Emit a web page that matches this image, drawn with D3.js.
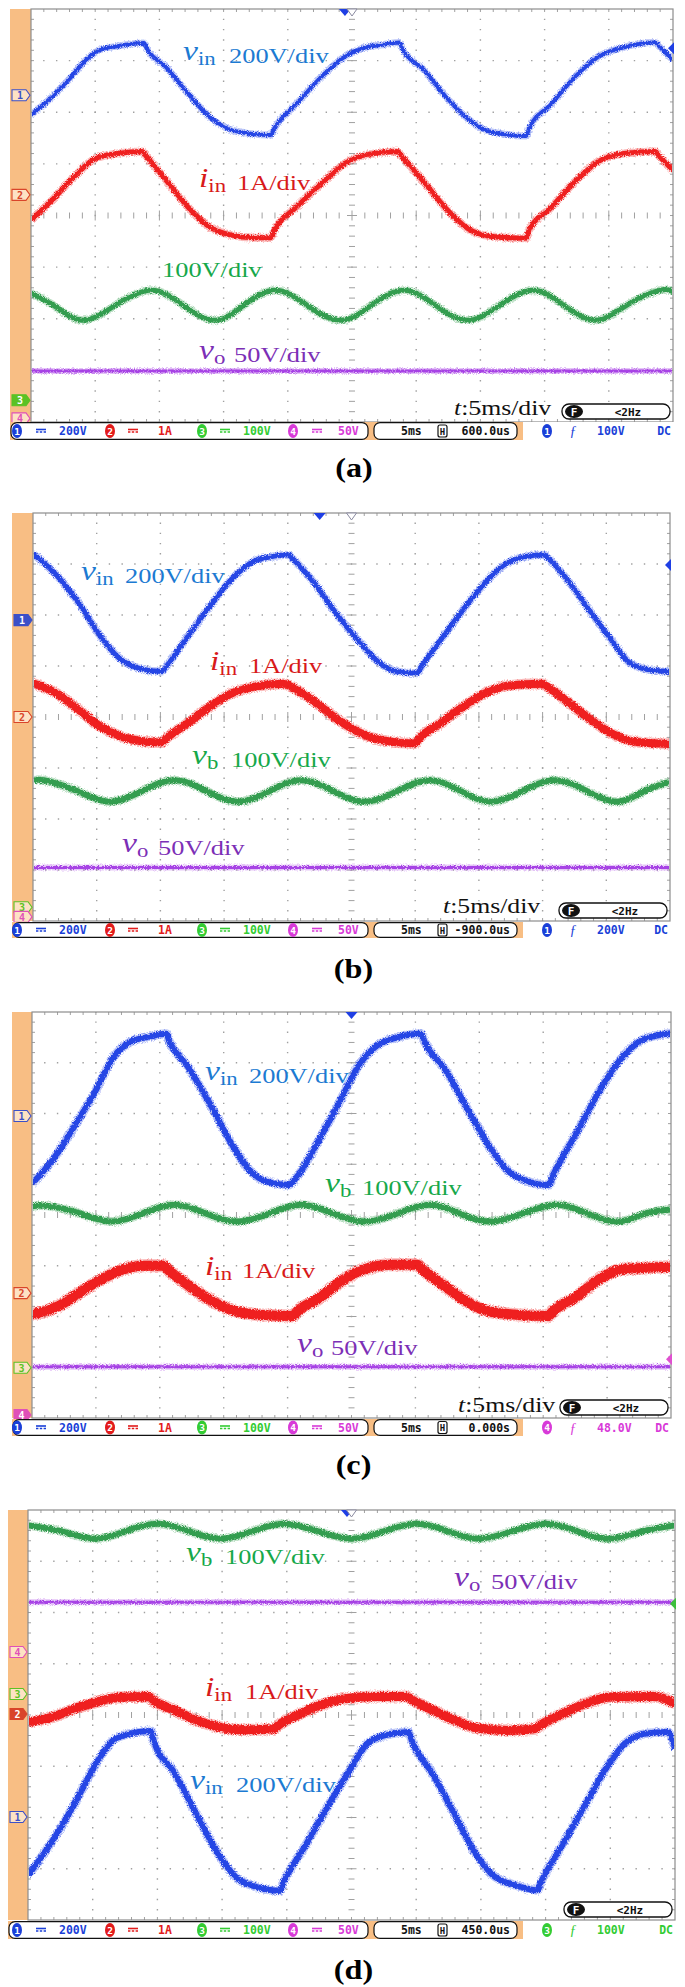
<!DOCTYPE html>
<html><head><meta charset="utf-8">
<script src="https://cdn.jsdelivr.net/npm/d3@7/dist/d3.min.js"></script>
<style>body{margin:0;background:#fff}svg{display:block}</style>
</head><body>
<svg id="c" width="685" height="1987"></svg>
<script>
// ---------------- data (divisions: x 0..10, value -4..4, positive up) ----------------
const aVin = [[0,1.95],[0.33,2.30],[0.61,2.66],[0.88,3.04],[1.08,3.21],[1.35,3.28],[1.76,3.34],[1.80,3.24],[2.10,2.88],[2.44,2.37],[2.78,1.91],[3.05,1.69],[3.39,1.59],[3.73,1.56],[3.79,1.69],[4.14,2.17],[4.55,2.72],[4.89,3.08],[5.16,3.24],[5.44,3.30],[5.74,3.35],[5.78,3.24],[6.12,2.82],[6.46,2.30],[6.80,1.88],[7.07,1.66],[7.41,1.57],[7.71,1.54],[7.76,1.69],[8.09,2.14],[8.50,2.72],[8.84,3.08],[9.18,3.24],[9.72,3.35],[9.79,3.27],[10,3.01]];
const aIin = [[0,-0.09],[0.33,0.30],[0.67,0.75],[1.01,1.11],[1.35,1.20],[1.73,1.24],[1.80,1.14],[2.10,0.69],[2.44,0.17],[2.78,-0.22],[3.12,-0.38],[3.46,-0.43],[3.73,-0.43],[3.79,-0.28],[4.14,0.17],[4.55,0.65],[4.89,1.01],[5.23,1.18],[5.71,1.24],[5.78,1.14],[6.12,0.65],[6.46,0.14],[6.80,-0.25],[7.14,-0.40],[7.71,-0.44],[7.76,-0.28],[8.09,0.14],[8.50,0.69],[8.84,1.05],[9.24,1.20],[9.72,1.24],[9.79,1.14],[10,0.88]];
const aVb = [[0,-1.50],[0.40,-1.78],[0.81,-2.03],[1.30,-1.75],[1.86,-1.45],[2.35,-1.72],[2.85,-2.03],[3.30,-1.75],[3.80,-1.45],[4.30,-1.74],[4.82,-2.03],[5.30,-1.74],[5.81,-1.45],[6.30,-1.74],[6.80,-2.03],[7.30,-1.74],[7.82,-1.45],[8.30,-1.74],[8.80,-2.03],[9.30,-1.72],[9.79,-1.45],[10,-1.48]];
const aVo = [[0,-3.01],[10,-3.01]];

const bVin = [[0,3.20],[0.37,2.78],[0.72,2.23],[1.06,1.58],[1.33,1.18],[1.68,0.95],[2.02,0.89],[2.09,0.99],[2.43,1.58],[2.77,2.16],[3.11,2.69],[3.46,3.05],[3.73,3.14],[4.01,3.18],[4.07,3.11],[4.42,2.62],[4.76,2.03],[5.10,1.51],[5.45,1.05],[5.72,0.89],[6.03,0.86],[6.10,0.99],[6.40,1.51],[6.75,2.10],[7.09,2.62],[7.43,3.01],[7.71,3.14],[8.02,3.18],[8.09,3.11],[8.39,2.69],[8.73,2.10],[9.08,1.51],[9.35,1.08],[9.69,0.92],[10,0.89]];
const bIin = [[0,0.66],[0.37,0.46],[0.72,0.14],[1.06,-0.19],[1.40,-0.39],[1.74,-0.48],[2.02,-0.50],[2.09,-0.42],[2.43,-0.12],[2.77,0.20],[3.11,0.46],[3.46,0.59],[3.94,0.65],[4.07,0.58],[4.42,0.30],[4.76,-0.03],[5.10,-0.29],[5.45,-0.45],[5.99,-0.52],[6.06,-0.42],[6.40,-0.12],[6.75,0.20],[7.09,0.46],[7.43,0.61],[7.98,0.65],[8.09,0.58],[8.39,0.30],[8.73,-0.03],[9.08,-0.32],[9.42,-0.48],[10,-0.53]];
const bVb = [[0,-1.27],[0.17,-1.24],[0.69,-1.45],[1.20,-1.66],[1.71,-1.45],[2.22,-1.24],[2.72,-1.45],[3.22,-1.66],[3.72,-1.45],[4.21,-1.24],[4.71,-1.45],[5.21,-1.66],[5.72,-1.45],[6.23,-1.24],[6.71,-1.45],[7.19,-1.66],[7.69,-1.45],[8.19,-1.24],[8.69,-1.45],[9.18,-1.66],[9.60,-1.45],[10,-1.27]];
const bVo = [[0,-2.95],[10,-2.95]];

const cVin = [[0,0.62],[0.32,1.08],[0.66,1.74],[1.00,2.46],[1.28,3.12],[1.55,3.42],[1.82,3.51],[2.10,3.57],[2.15,3.42],[2.44,2.92],[2.78,2.20],[3.12,1.41],[3.40,0.89],[3.67,0.66],[4.01,0.59],[4.15,0.76],[4.49,1.48],[4.83,2.27],[5.10,2.92],[5.38,3.32],[5.72,3.50],[6.09,3.57],[6.14,3.42],[6.47,2.86],[6.81,2.10],[7.16,1.35],[7.43,0.89],[7.70,0.69],[8.08,0.59],[8.18,0.85],[8.52,1.61],[8.86,2.40],[9.20,3.05],[9.55,3.45],[10,3.58]];
const cVb = [[0,0.17],[0.25,0.18],[0.75,0.03],[1.24,-0.13],[1.73,0.03],[2.23,0.20],[2.72,0.03],[3.22,-0.13],[3.71,0.03],[4.21,0.20],[4.71,0.03],[5.21,-0.13],[5.72,0.03],[6.23,0.20],[6.69,0.03],[7.15,-0.13],[7.68,0.03],[8.21,0.20],[8.69,0.03],[9.17,-0.13],[9.60,0.03],[10,0.11]];
const cIin = [[0,-1.96],[0.39,-1.81],[0.73,-1.54],[1.07,-1.28],[1.41,-1.08],[1.76,-1.00],[2.06,-1.00],[2.13,-1.08],[2.44,-1.38],[2.78,-1.67],[3.12,-1.87],[3.60,-1.97],[4.08,-1.99],[4.15,-1.90],[4.49,-1.64],[4.83,-1.31],[5.17,-1.08],[5.65,-0.98],[6.03,-0.98],[6.09,-1.05],[6.47,-1.41],[6.81,-1.71],[7.16,-1.90],[7.63,-1.97],[8.08,-1.99],[8.15,-1.90],[8.52,-1.61],[8.86,-1.28],[9.20,-1.08],[10,-1.02]];
const cVo = [[0,-2.99],[10,-2.99]];

const dVb = [[0,3.70],[0.51,3.585],[1.02,3.44],[1.51,3.585],[2.00,3.73],[2.49,3.585],[2.98,3.44],[3.47,3.585],[3.95,3.73],[4.48,3.585],[5.00,3.44],[5.50,3.585],[6.01,3.73],[6.49,3.585],[6.96,3.44],[7.48,3.585],[8.00,3.73],[8.49,3.585],[8.98,3.44],[9.50,3.585],[10,3.70]];
const dVo = [[0,2.20],[10,2.20]];
const dIin = [[0,-0.14],[0.38,-0.04],[0.72,0.12],[1.05,0.25],[1.39,0.34],[1.86,0.36],[1.93,0.29],[2.27,0.09],[2.60,-0.10],[2.94,-0.23],[3.35,-0.29],[3.79,-0.27],[3.89,-0.18],[4.22,0.03],[4.56,0.21],[4.90,0.32],[5.37,0.36],[5.84,0.36],[5.94,0.29],[6.25,0.10],[6.59,-0.10],[6.92,-0.25],[7.40,-0.30],[7.83,-0.27],[7.94,-0.18],[8.27,0.03],[8.61,0.22],[9.01,0.35],[9.69,0.36],[10,0.22]];
const dVin = [[0,-3.13],[0.38,-2.45],[0.72,-1.73],[1.05,-0.95],[1.32,-0.49],[1.59,-0.36],[1.90,-0.31],[1.94,-0.49],[2.27,-1.14],[2.60,-1.93],[2.94,-2.71],[3.21,-3.16],[3.55,-3.36],[3.89,-3.43],[3.95,-3.26],[4.29,-2.54],[4.63,-1.79],[4.97,-1.08],[5.24,-0.56],[5.51,-0.40],[5.88,-0.33],[5.94,-0.53],[6.25,-1.14],[6.59,-1.93],[6.92,-2.71],[7.19,-3.13],[7.53,-3.32],[7.87,-3.42],[7.94,-3.23],[8.27,-2.51],[8.61,-1.76],[8.95,-1.01],[9.22,-0.56],[9.55,-0.36],[9.89,-0.33],[10,-0.66]];

// channel ground markers [channel, level(div), filled]
const aMarkers = [[1,2.33,0],[2,0.40,0],[3,-3.58,1],[4,-3.93,0]];
const bMarkers = [[1,1.90,1],[2,0.00,0],[3,-3.73,0],[4,-3.92,0]];
const cMarkers = [[1,1.95,0],[2,-1.54,0],[3,-3.01,0],[4,-3.94,1]];
const dMarkers = [[4,1.23,0],[3,0.41,0],[2,0.02,1],[1,-1.99,0]];

// text
const scaleTexts = {vin:"200V/div", iin:"1A/div", vb:"100V/div", vo:"50V/div"};
const symTexts = {vin:["v","in"], iin:["i","in"], vb:["v","b"], vo:["v","o"]};
const chScales = ["200V","1A","100V","50V"];
const timeBase = "5ms";
const hPos = {a:"600.0us", b:"-900.0us", c:"0.000s", d:"450.0us"};
const trigInfo = {a:[1,"100V"], b:[1,"200V"], c:[4,"48.0V"], d:[3,"100V"]};
const freqText = "<2Hz";
const tDivText = ":5ms/div";
const panelTitles = {a:"(a)", b:"(b)", c:"(c)", d:"(d)"};

// ---------------- styles ----------------
const traceColor = {vin:"#1f3fe4", iin:"#ee1616", vb:"#2d9a4a", vo:"#a43ce4"};
const labelColor = {vin:"#1c7ad2", iin:"#d81a1a", vb:"#16a84a", vo:"#7c2fb6"};
const chColor = ["#1a3fd8","#e21b1b","#33cc33","#d83ad8"];
const markColor = ["#3c50c8","#d9452a","#5cc224","#e050b8"];
const ORANGE = "#f8be84";
const SERIF = "'Liberation Serif','Times New Roman',serif";
const MONO = "'DejaVu Sans Mono','Liberation Mono',monospace";
const SX = 1.2;

const panels = [
 {id:"a", ox:10, x0:31, x1:673, y0:9, y1:422, sb0:422, sb1:440, ty:477,
  traces:[["vo",aVo,4],["vb",aVb,6],["iin",aIin,6],["vin",aVin,5]], markers:aMarkers,
  topMark:[4.89,"#1f3fe4"], topOutline:true, rightMark:[3.24,"#1f3fe4"],
  labels:[{k:"vin",sx:183,tx:229,y:63,sym:1},{k:"iin",sx:199,tx:237,y:190,sym:1},{k:"vb",tx:162,y:277,sym:0},{k:"vo",sx:199,tx:234,y:362,sym:1}],
  tdiv:[454,415]},
 {id:"b", ox:12, x0:33, x1:670, y0:513, y1:921, sb0:922, sb1:938, ty:978,
  traces:[["vo",bVo,4],["vb",bVb,7],["iin",bIin,9],["vin",bVin,6]], markers:bMarkers,
  topMark:[4.5,"#1f3fe4"], topOutline:true, rightMark:[2.98,"#1f3fe4"],
  labels:[{k:"vin",sx:81,tx:125,y:583,sym:1},{k:"iin",sx:210,tx:249,y:673,sym:1},{k:"vb",sx:192,tx:231,y:767,sym:1},{k:"vo",sx:122,tx:158,y:855,sym:1}],
  tdiv:[443,913]},
 {id:"c", ox:12, x0:32, x1:671, y0:1012, y1:1418, sb0:1419, sb1:1436, ty:1474,
  traces:[["vo",cVo,4],["vb",cVb,7],["iin",cIin,11],["vin",cVin,7]], markers:cMarkers,
  topMark:[5.0,"#1f3fe4"], topOutline:false, rightMark:[-2.84,"#e050d0"],
  labels:[{k:"vin",sx:205,tx:249,y:1083,sym:1},{k:"vb",sx:325,tx:362,y:1195,sym:1},{k:"iin",sx:205,tx:242,y:1278,sym:1},{k:"vo",sx:297,tx:331,y:1355,sym:1}],
  tdiv:[458,1412]},
 {id:"d", ox:8, x0:28, x1:675, y0:1510, y1:1920, sb0:1921, sb1:1939, ty:1979,
  traces:[["vo",dVo,4],["vb",dVb,7],["iin",dIin,10],["vin",dVin,7]], markers:dMarkers,
  topMark:[4.93,"#1f3fe4"], topOutline:true, rightMark:[2.17,"#3cc03c"],
  labels:[{k:"vb",sx:186,tx:225,y:1564,sym:1},{k:"vo",sx:454,tx:491,y:1589,sym:1},{k:"iin",sx:205,tx:245,y:1699,sym:1},{k:"vin",sx:190,tx:236,y:1792,sym:1}],
  tdiv:null}
];

const svg = d3.select("#c");
svg.append("rect").attr("width",685).attr("height",1987).attr("fill","#fff");

// rough-edge filter for noisy scope traces (visual only)
const defs = svg.append("defs");
const f = defs.append("filter").attr("id","rough").attr("filterUnits","userSpaceOnUse")
  .attr("x",0).attr("y",0).attr("width",685).attr("height",1987);
f.append("feTurbulence").attr("type","fractalNoise").attr("baseFrequency","1.3 0.9").attr("numOctaves",2).attr("seed",4).attr("result","n");
f.append("feDisplacementMap").attr("in","SourceGraphic").attr("in2","n").attr("scale",4.5).attr("xChannelSelector","R").attr("yChannelSelector","G");

function stext(g, x, y, sx){
  return g.append("text").attr("transform",`translate(${x},${y}) scale(${sx||SX},1)`);
}

function drawPanel(P){
  const g = svg.append("g").attr("class","panel-"+P.id);
  const x = d3.scaleLinear().domain([0,10]).range([P.x0,P.x1]);
  const y = d3.scaleLinear().domain([-4,4]).range([P.y1,P.y0]);
  const dxm = (P.x1-P.x0)/50, dym = (P.y1-P.y0)/40;
  const grid = "#a0a0a0";

  // orange side bar
  g.append("rect").attr("x",P.ox).attr("y",P.y0).attr("width",P.x0-P.ox).attr("height",P.y1-P.y0).attr("fill",ORANGE);

  // dotted grid
  const gg = g.append("g");
  d3.range(1,10).filter(i=>i!==5).forEach(i=>{
    gg.append("line").attr("x1",x(i)).attr("x2",x(i)).attr("y1",P.y0).attr("y2",P.y1)
      .attr("stroke",grid).attr("stroke-width",1.4)
      .attr("stroke-dasharray",`1.4 ${dym-1.4}`).attr("stroke-dashoffset",0.7);
  });
  d3.range(-3,4).filter(j=>j!==0).forEach(j=>{
    gg.append("line").attr("y1",y(j)).attr("y2",y(j)).attr("x1",P.x0).attr("x2",P.x1)
      .attr("stroke",grid).attr("stroke-width",1.4)
      .attr("stroke-dasharray",`1.4 ${dxm-1.4}`).attr("stroke-dashoffset",0.7);
  });
  // center crosshair ticks
  d3.range(1,40).forEach(k=>{
    const yy = P.y0+k*dym, L = k%5===0?5:3;
    gg.append("line").attr("x1",x(5)-L).attr("x2",x(5)+L).attr("y1",yy).attr("y2",yy).attr("stroke",grid).attr("stroke-width",1);
  });
  d3.range(1,50).forEach(k=>{
    const xx = P.x0+k*dxm, L = k%5===0?5:3;
    gg.append("line").attr("y1",y(0)-L).attr("y2",y(0)+L).attr("x1",xx).attr("x2",xx).attr("stroke",grid).attr("stroke-width",1);
  });
  // border ticks
  d3.range(1,50).forEach(k=>{
    const xx = P.x0+k*dxm;
    gg.append("line").attr("x1",xx).attr("x2",xx).attr("y1",P.y0).attr("y2",P.y0+3).attr("stroke",grid);
    gg.append("line").attr("x1",xx).attr("x2",xx).attr("y1",P.y1).attr("y2",P.y1-3).attr("stroke",grid);
  });
  d3.range(1,40).forEach(k=>{
    const yy = P.y0+k*dym;
    gg.append("line").attr("x1",P.x0).attr("x2",P.x0+3).attr("y1",yy).attr("y2",yy).attr("stroke",grid);
    gg.append("line").attr("x1",P.x1).attr("x2",P.x1-3).attr("y1",yy).attr("y2",yy).attr("stroke",grid);
  });
  g.append("rect").attr("x",P.x0).attr("y",P.y0).attr("width",P.x1-P.x0).attr("height",P.y1-P.y0)
    .attr("fill","none").attr("stroke","#8d8d8d").attr("stroke-width",1.2);

  // clip
  const cid = "clip-"+P.id;
  defs.append("clipPath").attr("id",cid).append("rect")
    .attr("x",P.x0+1).attr("y",P.y0+1).attr("width",P.x1-P.x0-2).attr("height",P.y1-P.y0-2);

  // traces
  const lineMono = d3.line().x(d=>x(d[0])).y(d=>y(d[1])).curve(d3.curveMonotoneX);
  const lineSmooth = d3.line().x(d=>x(d[0])).y(d=>y(d[1])).curve(d3.curveNatural);
  const tg = g.append("g").attr("clip-path",`url(#${cid})`);
  P.traces.forEach(([k,data,w])=>{
    const gen = (k==="vb"||k==="vo") ? lineSmooth : lineMono;
    tg.append("path").datum(data).attr("d",gen).attr("fill","none")
      .attr("stroke",traceColor[k]).attr("stroke-opacity",0.3).attr("stroke-width",w+2)
      .attr("stroke-linejoin","round").attr("filter","url(#rough)");
    tg.append("path").datum(data).attr("d",gen).attr("fill","none")
      .attr("stroke",traceColor[k]).attr("stroke-opacity",0.95).attr("stroke-width",w-1)
      .attr("stroke-linejoin","round").attr("filter","url(#rough)");
  });

  // labels
  P.labels.forEach(L=>{
    if(L.sym){
      const t = stext(g, L.sx, L.y).attr("fill",labelColor[L.k]).style("font-family",SERIF);
      t.append("tspan").attr("dy",-3).style("font-style","italic").style("font-size","28px").text(symTexts[L.k][0]);
      t.append("tspan").attr("dy",5).style("font-size","19px").text(symTexts[L.k][1]);
    }
    stext(g, L.tx, L.y).attr("fill",labelColor[L.k]).style("font-family",SERIF).style("font-size","22px").text(scaleTexts[L.k]);
  });

  if(P.tdiv){
    const t = stext(g, P.tdiv[0], P.tdiv[1], 1.17).attr("fill","#111").style("font-family",SERIF).style("font-size","22px");
    t.append("tspan").style("font-style","italic").text("t");
    t.append("tspan").text(tDivText);
  }

  // F <2Hz box
  const fx0 = P.x1-111, fx1 = P.x1-3, fy0 = P.y1-18, fy1 = P.y1-3;
  g.append("rect").attr("x",fx0).attr("y",fy0).attr("width",fx1-fx0).attr("height",fy1-fy0).attr("rx",7)
    .attr("fill","#fff").attr("stroke","#111").attr("stroke-width",1.3);
  g.append("ellipse").attr("cx",fx0+12).attr("cy",(fy0+fy1)/2).attr("rx",9).attr("ry",6.5).attr("fill","#111");
  g.append("text").attr("x",fx0+12).attr("y",(fy0+fy1)/2+4).attr("text-anchor","middle").attr("fill","#fff")
    .style("font-family",MONO).style("font-weight","bold").style("font-size","11px").text("F");
  g.append("text").attr("x",fx0+66).attr("y",(fy0+fy1)/2+4).attr("text-anchor","middle").attr("fill","#111")
    .style("font-family",MONO).style("font-weight","bold").style("font-size","11px").text(freqText);

  // channel markers on the orange bar
  P.markers.forEach(([ch,v,filled])=>{
    const l = P.ox+2, r = P.x0-1, c = y(v), h = 5.5;
    const col = markColor[ch-1];
    g.append("path").attr("d",`M${l},${c-h}H${r-4}L${r},${c}L${r-4},${c+h}H${l}Z`)
      .attr("fill",filled?col:"#fde2c4").attr("stroke",col).attr("stroke-width",1.1);
    g.append("text").attr("x",(l+r-4)/2+1).attr("y",c+4).attr("text-anchor","middle")
      .attr("fill",filled?"#fff":col).style("font-family",MONO).style("font-weight","bold").style("font-size","10px").text(ch);
  });

  // top markers
  const tx = x(P.topMark[0]);
  g.append("path").attr("d",`M${tx-6},${P.y0}L${tx+6},${P.y0}L${tx},${P.y0+7}Z`).attr("fill",P.topMark[1]);
  if(P.topOutline){
    const cx = x(5);
    g.append("path").attr("d",`M${cx-5},${P.y0}L${cx+5},${P.y0}L${cx},${P.y0+7}Z`).attr("fill","#fff").attr("stroke","#8a8aa0").attr("stroke-width",1);
  }
  // right trigger-level marker
  const ry = y(P.rightMark[0]);
  g.append("path").attr("d",`M${P.x1+1},${ry-6}L${P.x1-5},${ry}L${P.x1+1},${ry+6}Z`).attr("fill",P.rightMark[1]);

  // status bar
  const s0 = P.sb0, s1 = P.sb1, sm = (s0+s1)/2;
  g.append("rect").attr("x",P.ox).attr("y",s0).attr("width",P.x1-P.ox+1).attr("height",s1-s0).attr("fill",ORANGE);
  g.append("rect").attr("x",P.ox+1).attr("y",s0+0.6).attr("width",368-P.ox-1).attr("height",s1-s0-1.2).attr("rx",6)
    .attr("fill","#fff").attr("stroke","#111").attr("stroke-width",1.2);
  g.append("rect").attr("x",374).attr("y",s0+0.6).attr("width",143).attr("height",s1-s0-1.2).attr("rx",6)
    .attr("fill","#fff").attr("stroke","#111").attr("stroke-width",1.2);
  g.append("rect").attr("x",523).attr("y",s0).attr("width",P.x1-523+1).attr("height",s1-s0).attr("fill","#fff");

  const st = (xx, txt, col, anchor) => g.append("text").attr("x",xx).attr("y",sm+4).attr("text-anchor",anchor||"start")
      .attr("fill",col).style("font-family",MONO).style("font-weight","bold").style("font-size","11.5px").text(txt);
  const chip = (cx, ch) => {
    g.append("ellipse").attr("cx",cx).attr("cy",sm).attr("rx",5).attr("ry",7).attr("fill",chColor[ch-1]);
    g.append("text").attr("x",cx).attr("y",sm+3.5).attr("text-anchor","middle").attr("fill","#fff")
      .style("font-family",MONO).style("font-weight","bold").style("font-size","9.5px").text(ch);
  };
  const chipX = [17,110,202,293], dcX = [41,133,225,317], valX = [59,158,243,338];
  chScales.forEach((s,i)=>{
    chip(chipX[i], i+1);
    g.append("line").attr("x1",dcX[i]-5).attr("x2",dcX[i]+5).attr("y1",sm-1.5).attr("y2",sm-1.5).attr("stroke",chColor[i]).attr("stroke-width",1.6);
    g.append("line").attr("x1",dcX[i]-5).attr("x2",dcX[i]+5).attr("y1",sm+1).attr("y2",sm+1).attr("stroke",chColor[i]).attr("stroke-width",1.6).attr("stroke-dasharray","2.4 1.4");
    st(valX[i], s, chColor[i]);
  });
  st(401, timeBase, "#111");
  g.append("rect").attr("x",438).attr("y",sm-6).attr("width",9).attr("height",12).attr("rx",2).attr("fill","#fff").attr("stroke","#111").attr("stroke-width",1.2);
  g.append("text").attr("x",442.5).attr("y",sm+3.5).attr("text-anchor","middle").attr("fill","#111").style("font-family",MONO).style("font-weight","bold").style("font-size","9px").text("H");
  st(510, hPos[P.id], "#111", "end");
  const [tc, tl] = trigInfo[P.id];
  chip(547, tc);
  g.append("text").attr("x",573).attr("y",sm+5).attr("text-anchor","middle").attr("fill",chColor[tc-1])
    .style("font-family",SERIF).style("font-style","italic").style("font-size","14px").text("ƒ");
  st(597, tl, chColor[tc-1]);
  st(P.x1-2, "DC", chColor[tc-1], "end");

  // title
  stext(g, (P.x0+P.x1)/2+2, P.ty, 1.15).attr("text-anchor","middle").attr("fill","#000")
    .style("font-family",SERIF).style("font-weight","bold").style("font-size","28px").text(panelTitles[P.id]);
}

panels.forEach(drawPanel);
</script>
</body></html>
